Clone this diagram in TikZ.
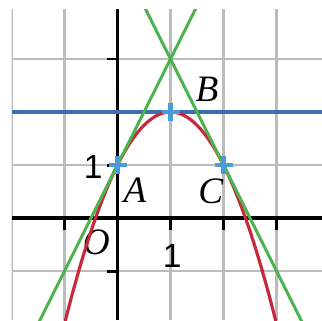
\documentclass[tikz,border=0pt]{standalone}
\usepackage{fontspec}
\setmainfont{Liberation Serif}
\newfontfamily\labelsans{Liberation Sans}
\usetikzlibrary{calc}
\definecolor{gridgray}{RGB}{188,188,188}
\definecolor{curvered}{RGB}{200,40,62}
\definecolor{tangreen}{RGB}{78,178,78}
\definecolor{lineblue}{RGB}{60,110,180}
\definecolor{markblue}{RGB}{75,155,220}

\begin{document}
\begin{tikzpicture}[line cap=butt]
        \useasboundingbox (-2.217,-1.925) rectangle (3.858,4.113);
        \tikzset{
            ptlabel/.style={font=\fontsize{20}{20}\selectfont\itshape, inner sep=0pt},
            numlabel/.style={font=\fontsize{18}{18}\selectfont\labelsans, inner sep=0pt},
            crossmark/.style={draw=markblue, line width=2.2pt}
        }
        \begin{scope}
        \clip (-2,-1.925) rectangle (3.858,3.94);

        % grid and axes
        \draw[gridgray, line width=1.2pt] (-2,-1.925) grid (3.858,3.94);
        \draw[black, line width=1.8pt] (-2,0) -- (3.858,0);
        \draw[black, line width=1.8pt] (0,-1.925) -- (0,3.94);
        \foreach \x in {-1,1,2,3}
            \draw[black, line width=1.6pt] (\x,0) -- (\x,-0.22);
        \foreach \y in {-1,1,2,3}
            \draw[black, line width=1.6pt] (0,\y) -- (-0.2,\y);

        % points
        \coordinate (A) at (0,1);
        \coordinate (V) at (1,2);
        \coordinate (C) at (2,1);
        \coordinate (T) at (1,3);
        \coordinate (B) at (1.5,2);

        % labels
        \node[numlabel] (one y) at (-0.46,0.96) {1};
        \node[numlabel] (one x) at (1.03,-0.72) {1};
        \node[ptlabel] (lbl O) at (-0.4,-0.46) {O};
        \node[ptlabel] (lbl A) at (0.33,0.53) {A};
        \node[ptlabel] (lbl C) at (1.76,0.51) {C};
        \node[ptlabel] (lbl B) at (1.69,2.43) {B};

        % horizontal line y=2
        \draw[lineblue, line width=2pt] (-2,2) -- (3.858,2);

        % parabola and tangents
        \draw[curvered, line width=1.7pt] plot[domain=-1.1:3.1, samples=80, smooth] (\x,{2-(\x-1)*(\x-1)});
        \draw[tangreen, line width=1.6pt] ($(A)!-1.6!(T)$) -- ($(A)!1.5!(T)$);
        \draw[tangreen, line width=1.6pt] ($(C)!-1.6!(T)$) -- ($(C)!1.5!(T)$);

        % marks
        \foreach \p in {A,V,C}
            \draw[crossmark] ($(\p)+(-0.17,0)$) -- ($(\p)+(0.17,0)$)
                             ($(\p)+(0,-0.17)$) -- ($(\p)+(0,0.17)$);
        \end{scope}
\end{tikzpicture}
\end{document}
